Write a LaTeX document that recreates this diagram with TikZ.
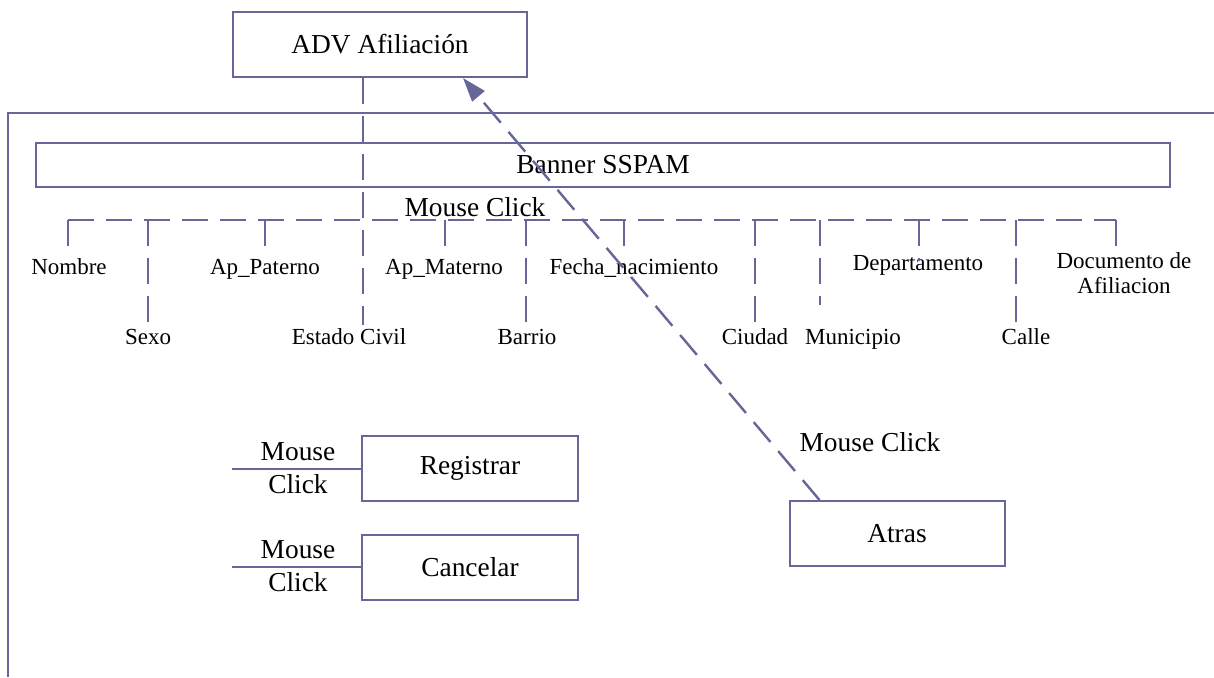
\documentclass[tikz,border=0pt]{standalone}
\usepackage{fontspec}
\setmainfont{Liberation Serif}
\usetikzlibrary{arrows.meta}
\definecolor{frameblue}{RGB}{102,102,153}
\newcommand{\bigtxt}{\fontsize{13.7}{16.5}\selectfont}
\newcommand{\smalltxt}{\fontsize{11.5}{12.8}\selectfont}

\begin{document}
\begin{tikzpicture}[x=0.5pt, y=-0.5pt, line width=1pt,
    box/.style={draw=frameblue, line width=1pt, inner sep=0pt, font=\bigtxt},
    field/.style={font=\smalltxt, inner sep=1pt, text height=8pt, text depth=2pt},
    link/.style={draw=frameblue, line width=1.2pt, dash pattern=on 13pt off 6pt}]
    \useasboundingbox (0,0) rectangle (1214,677);
    \draw[frameblue] (8,677) -- (8,113) -- (1214,113);

    \node[box, minimum width=147pt, minimum height=32.5pt](adv) at (380,44.5) {ADV Afiliación};
    \node[box, minimum width=567pt, minimum height=22pt](banner) at (603,165) {Banner SSPAM};
    \node[box, minimum width=108pt, minimum height=32.5pt](reg) at (470,468.5) {Registrar};
    \node[box, minimum width=108pt, minimum height=32.5pt](canc) at (470,567) {Cancelar};
    \node[box, minimum width=107.5pt, minimum height=32.5pt](atras) at (897,533.5) {Atras};

    \node[font=\bigtxt](click) at (475,207) {Mouse Click};
    \node[font=\bigtxt](clickback) at (870,442) {Mouse Click};
    \node[font=\bigtxt, align=center](clickreg) at (298,468.5) {Mouse\\Click};
    \node[font=\bigtxt, align=center](clickcanc) at (298,566.5) {Mouse\\Click};

    \begin{scope}[every node/.style={field}]
        \node(nombre) at (69,268) {Nombre};
        \node(sexo) at (148,338) {Sexo};
        \node(paterno) at (265,268) {Ap\_Paterno};
        \node(estado) at (349,338) {Estado Civil};
        \node(materno) at (444,268) {Ap\_Materno};
        \node(barrio) at (527,338) {Barrio};
        \node(fecha) at (634,268) {Fecha\_nacimiento};
        \node(ciudad) at (755,338) {Ciudad};
        \node(municipio) at (853,338) {Municipio};
        \node(depto) at (918,264) {Departamento};
        \node(calle) at (1026,338) {Calle};
    \end{scope}
    \node[font=\smalltxt, align=center, inner sep=1pt](docu) at (1124,273) {Documento de\\Afiliacion};

    \coordinate (t1) at (68,220);
    \coordinate (t2) at (148,220);
    \coordinate (t3) at (265,220);
    \coordinate (t4) at (363,220);
    \coordinate (t5) at (445,220);
    \coordinate (t6) at (526,220);
    \coordinate (t7) at (624,220);
    \coordinate (t8) at (755,220);
    \coordinate (t9) at (820,220);
    \coordinate (t10) at (919,220);
    \coordinate (t11) at (1016,220);
    \coordinate (t12) at (1116,220);
    \coordinate (inreg) at (232,468.5);
    \coordinate (incanc) at (232,567);

    \draw[link] (t1) -- (t12);
    \draw[link] (t1) -- (t1 |- nombre.north);
    \draw[link] (t2) -- (t2 |- sexo.north);
    \draw[link] (t3) -- (t3 |- paterno.north);
    \draw[link] (t4 |- adv.south) -- (t4 |- estado.north);
    \draw[link] (t5) -- (t5 |- materno.north);
    \draw[link] (t6) -- (t6 |- barrio.north);
    \draw[link] (t7) -- (t7 |- fecha.north);
    \draw[link] (t8) -- (t8 |- ciudad.north);
    \draw[link, shorten >=10pt] (t9) -- (t9 |- municipio.north);
    \draw[link, shorten >=1.5pt] (t10) -- (t10 |- depto.center);
    \draw[link] (t11) -- (t11 |- calle.north);
    \draw[link] (t12) -- (t12 |- docu.north);

    \draw[frameblue] (inreg) -- (reg.west);
    \draw[frameblue] (incanc) -- (canc.west);
    \draw[link, -{Triangle[length=12pt, width=8pt]}] ([xshift=15.5pt]atras.north west) -- ([xshift=41.5pt]adv.south);
\end{tikzpicture}
\end{document}
